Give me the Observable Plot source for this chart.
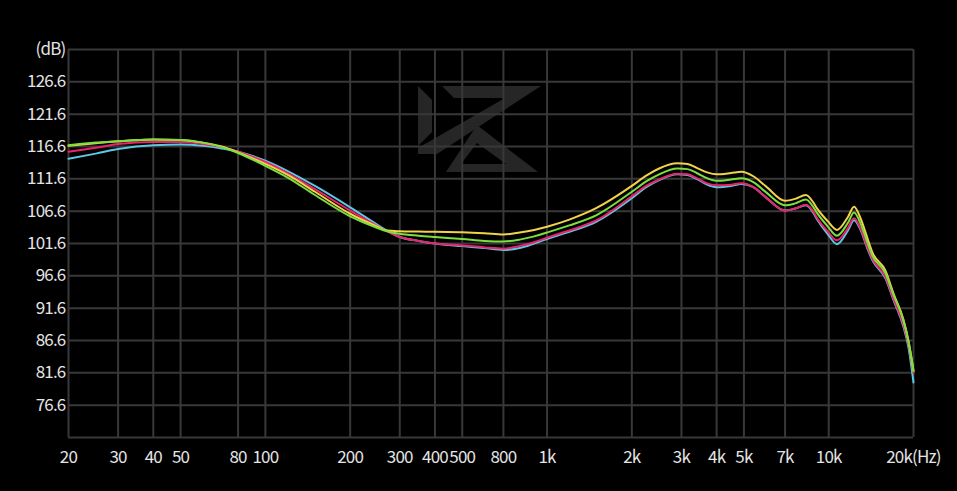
<!DOCTYPE html>
<html><head><meta charset="utf-8">
<script src="https://cdn.jsdelivr.net/npm/d3@7"></script>
<script src="https://cdn.jsdelivr.net/npm/@observablehq/plot@0.6"></script>
<style>
html,body{margin:0;padding:0;background:#000;}
#wrap{position:relative;width:957px;height:491px;overflow:hidden;}
#wm{position:absolute;left:0;top:0;}
#chart{position:absolute;left:0;top:0;}
</style></head><body>
<div id="wrap">
<svg id="wm" width="957" height="491">
  <g fill="#262626" fill-rule="evenodd">
    <polygon points="418,86 432,100 432,132 418,146"/>
    <polygon points="442,86 541,86 437,154 418,154 418,148 505,98 454,98"/>
    <path d="M477,125 L538,172 L446,172 Z M477,143 L461,164 L506,164 Z"/>
  </g>
</svg>
<div id="chart"></div>
</div>
<script>
const freqs = [20,25,30,40,50,60,70,80,100,120,150,200,250,270,300,350,400,500,600,700,800,900,1000,1200,1500,2000,2250,2500,2900,3150,3400,3700,4000,4500,4900,5400,6000,7000,7600,8300,8800,9100,9900,10700,11700,12300,13000,13700,14300,15900,17000,18400,19200,20000];
const yellow = [116.7,117.1,117.4,117.7,117.6,117.2,116.6,115.7,113.9,112.2,109.6,106.2,104.2,103.6,103.5,103.45,103.4,103.35,103.2,103.0,103.3,103.7,104.2,105.3,107.1,110.5,112.1,113.2,114.0,113.9,113.3,112.6,112.3,112.5,112.7,112.0,110.4,108.2,108.5,109.1,108.0,107.0,105.1,103.7,105.7,107.3,105.4,102.5,100.2,97.4,93.8,89.9,86.5,81.9];
const green = [116.8,117.2,117.4,117.7,117.6,117.2,116.5,115.6,113.6,111.8,109.1,105.8,104.0,103.5,103.1,102.8,102.6,102.3,102.0,101.9,102.2,102.7,103.3,104.4,106.0,109.6,111.2,112.3,113.2,113.1,112.5,111.7,111.3,111.5,111.7,111.1,109.5,107.5,107.8,108.4,107.3,106.3,104.3,102.8,104.8,106.4,104.6,101.8,99.7,97.0,93.6,89.8,86.5,81.9];
const pink = [115.8,116.4,117.0,117.3,117.3,117.0,116.5,115.8,114.2,112.5,110.0,106.7,104.3,103.5,102.6,102.0,101.6,101.3,101.0,100.8,101.2,101.8,102.5,103.6,105.2,108.9,110.5,111.5,112.4,112.3,111.7,110.9,110.6,110.7,110.9,110.3,108.7,106.7,107.0,107.6,106.6,105.5,103.5,102.1,104.0,105.5,103.8,101.1,99.2,96.4,93.0,89.1,86.0,81.6];
const cyan = [114.7,115.5,116.2,116.8,116.9,116.7,116.3,115.8,114.4,112.8,110.5,107.2,104.5,103.6,102.6,102.0,101.6,101.2,100.9,100.6,100.9,101.6,102.3,103.4,105.0,108.6,110.3,111.4,112.3,112.2,111.6,110.7,110.3,110.5,110.8,110.3,108.7,106.7,107.0,107.5,106.4,105.3,103.1,101.5,103.6,105.2,103.6,100.9,99.0,96.2,92.8,88.8,85.5,80.1];

const seriesNames = ["cyan","pink","yellow","green"];
const seriesValues = [cyan, pink, yellow, green];
const seriesColors = ["#5ec8e2","#e8246e","#f2d24a","#7ce03c"];

const xTicks = [20,30,40,50,80,100,200,300,400,500,700,1000,2000,3000,4000,5000,7000,10000,20000];
const xTickLabels = ["20","30","40","50","80","100","200","300","400","500","800","1k","2k","3k","4k","5k","7k","10k","20k(Hz)"];
const yTicks = [76.6,81.6,86.6,91.6,96.6,101.6,106.6,111.6,116.6,121.6,126.6,131.6];
const yTickLabels = ["76.6","81.6","86.6","91.6","96.6","101.6","106.6","111.6","116.6","121.6","126.6","(dB)"];
const yBottom = 71.6;

const xLabel = new Map(xTicks.map((t,i)=>[t,xTickLabels[i]]));
const yLabel = new Map(yTicks.map((t,i)=>[t,yTickLabels[i]]));

const lineMarks = seriesNames.map((name,k)=>{
  const rows = freqs.map((f,i)=>({f, db: seriesValues[k][i]}));
  return Plot.line(rows, {x:"f", y:"db", stroke: seriesColors[k], strokeWidth: 2, curve: "monotone-x"});
});

const font = "'Noto Sans CJK SC', 'Noto Sans', sans-serif";
const plot = Plot.plot({
  width: 957, height: 491,
  marginLeft: 68, marginRight: 44, marginTop: 49, marginBottom: 54,
  style: {background: "transparent", color: "#e4e4e4", fontFamily: font, fontSize: "17px"},
  x: {type: "log", domain: [20, 20000], axis: null},
  y: {domain: [yBottom, 131.6]},
  marks: [
    Plot.gridX(xTicks, {stroke: "#383838", strokeWidth: 2, strokeOpacity: 1}),
    Plot.gridY(yTicks.concat([yBottom]), {stroke: "#383838", strokeWidth: 2, strokeOpacity: 1}),
    Plot.text(xTicks, {x: d => d, text: d => xLabel.get(d), frameAnchor: "bottom", dy: 25, fontSize: 17, fill: "#e4e4e4"}),
    Plot.axisY(yTicks, {tickSize: 0, tickPadding: 3, tickFormat: d => yLabel.get(d), label: null, fontSize: 17, fill: "#e4e4e4"}),
    ...lineMarks
  ]
});
plot.style.letterSpacing = "-0.8px";
document.getElementById("chart").appendChild(plot);
</script>
</body></html>
